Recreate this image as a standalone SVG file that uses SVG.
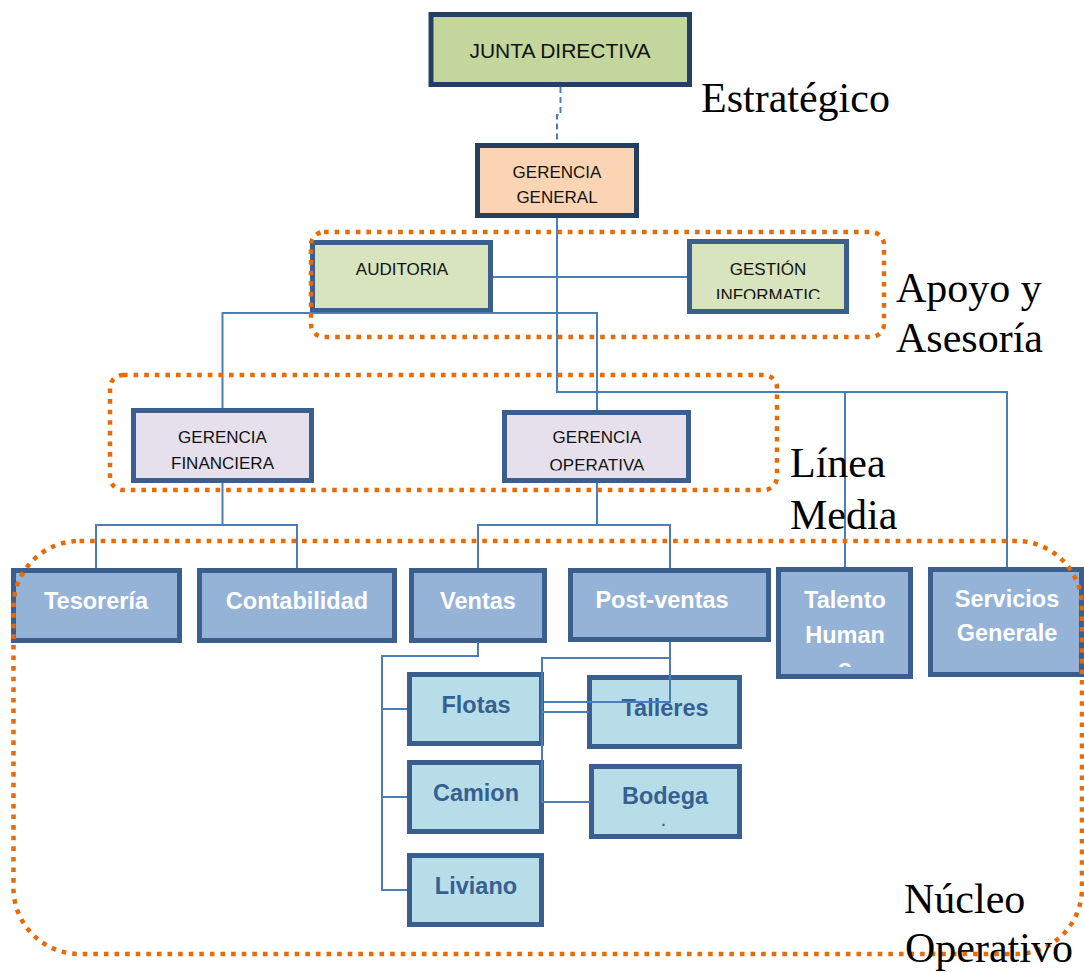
<svg xmlns="http://www.w3.org/2000/svg" width="1084" height="973" viewBox="0 0 1084 973">
<style>
.conn{stroke:#4A7EBB;stroke-width:2;fill:none}
.dash{stroke-dasharray:6 4}
.grp{stroke:#E46C0A;stroke-width:4.5;stroke-dasharray:4.6 6;fill:none}
.bd1{stroke:#243F60;stroke-width:5}
.bd2{stroke:#3A5F8E;stroke-width:5}
.t1{font-family:"Liberation Sans",Arial,sans-serif;font-size:17px;fill:#111;text-anchor:middle}
.t2{font-family:"Liberation Sans",Arial,sans-serif;font-size:23.5px;font-weight:bold;fill:#fff;text-anchor:middle}
.t3{font-family:"Liberation Sans",Arial,sans-serif;font-size:23.5px;font-weight:bold;fill:#376092;text-anchor:middle}
.lbl{font-family:"Liberation Serif","Times New Roman",serif;font-size:42px;fill:#000}
.cGreen{fill:#C3D69B}.cPeach{fill:#FBD4B4}.cLGreen{fill:#D7E4BD}.cLav{fill:#E5E0EC}.cBlue{fill:#95B3D7}.cCyan{fill:#B7DEE8}
</style>
<defs>
<clipPath id="clipGG"><rect x="470" y="140" width="175" height="66"/></clipPath>
<clipPath id="clipGI"><rect x="680" y="235" width="175" height="64"/></clipPath>
<clipPath id="clipGF"><rect x="125" y="400" width="195" height="70"/></clipPath>
<clipPath id="clipGO"><rect x="495" y="400" width="200" height="70.5"/></clipPath>
<clipPath id="clipTH"><rect x="770" y="560" width="150" height="107"/></clipPath>
</defs>

<g id="junta-directiva">
<rect class="cGreen bd1" x="431" y="14.5" width="258.5" height="70"/>
<text class="t1" x="560" y="58" style="font-size:21px">JUNTA DIRECTIVA</text>
</g>
<g id="gerencia-general">
<rect class="cPeach bd1" x="477.5" y="145.5" width="159" height="70"/>
<g clip-path="url(#clipGG)">
<text class="t1" x="557" y="178">GERENCIA</text>
<text class="t1" x="557" y="203">GENERAL</text>
</g>
</g>
<g id="auditoria">
<rect class="cLGreen bd2" x="312.5" y="242.5" width="178" height="68"/>
<text class="t1" x="402" y="275">AUDITORIA</text>
</g>
<g id="gestion-informatica">
<rect class="cLGreen bd2" x="689.5" y="241.5" width="157" height="70"/>
<g clip-path="url(#clipGI)">
<text class="t1" x="768" y="275">GESTIÓN</text>
<text class="t1" x="768" y="301">INFORMATIC</text>
</g>
</g>
<g id="gerencia-financiera">
<rect class="cLav bd2" x="133.5" y="410.5" width="178" height="70"/>
<g clip-path="url(#clipGF)">
<text class="t1" x="222.5" y="443">GERENCIA</text>
<text class="t1" x="222.5" y="469">FINANCIERA</text>
</g>
</g>
<g id="gerencia-operativa">
<rect class="cLav bd2" x="504.5" y="412.5" width="184" height="68"/>
<g clip-path="url(#clipGO)">
<text class="t1" x="597" y="443">GERENCIA</text>
<text class="t1" x="597" y="470.5">OPERATIVA</text>
</g>
</g>
<g id="tesoreria">
<rect class="cBlue bd2" x="13.5" y="570.5" width="166" height="70"/>
<text class="t2" x="96" y="609">Tesorería</text>
</g>
<g id="contabilidad">
<rect class="cBlue bd2" x="199.5" y="570.5" width="195" height="70"/>
<text class="t2" x="297" y="609">Contabilidad</text>
</g>
<g id="ventas">
<rect class="cBlue bd2" x="411.5" y="570.5" width="133" height="70"/>
<text class="t2" x="478" y="609">Ventas</text>
</g>
<g id="post-ventas">
<rect class="cBlue bd2" x="570.5" y="570.5" width="198" height="69"/>
<text class="t2" x="662" y="608">Post-ventas</text>
</g>
<g id="talento-humano">
<rect class="cBlue bd2" x="778.5" y="569.5" width="132" height="107"/>
<g clip-path="url(#clipTH)">
<text class="t2" x="845" y="608">Talento</text>
<text class="t2" x="845" y="643">Human</text>
<text class="t2" x="845" y="676">o</text>
</g>
</g>
<g id="servicios-generales">
<rect class="cBlue bd2" x="930.5" y="569.5" width="151" height="105"/>
<text class="t2" x="1007" y="607">Servicios</text>
<text class="t2" x="1007" y="641">Generale</text>
</g>
<g id="flotas">
<rect class="cCyan bd2" x="409.5" y="674.5" width="132" height="69"/>
<text class="t3" x="476" y="713">Flotas</text>
</g>
<g id="camion">
<rect class="cCyan bd2" x="409.5" y="762.5" width="132" height="69"/>
<text class="t3" x="476" y="801">Camion</text>
</g>
<g id="liviano">
<rect class="cCyan bd2" x="409.5" y="855.5" width="132" height="69"/>
<text class="t3" x="476" y="894">Liviano</text>
</g>
<g id="talleres">
<rect class="cCyan bd2" x="589.5" y="677.5" width="150" height="69"/>
<text class="t3" x="665" y="716">Talleres</text>
</g>
<g id="bodega">
<rect class="cCyan bd2" x="591.5" y="766.5" width="148" height="70"/>
<text class="t3" x="665" y="804">Bodega</text>
<text class="t3" x="663.5" y="825.5" style="font-size:14px">.</text>
</g>

<g id="connectors">
<path class="conn dash" d="M560.5,87 V115 H557 V143"/>
<path class="conn" d="M557,218 V392 H1007 V567"/>
<path class="conn" d="M845,392 V567"/>
<path class="conn" d="M493,277 H687"/>
<path class="conn" d="M222.5,408 V313 H597 V410"/>
<path class="conn" d="M222.5,483 V525 H96 V568"/>
<path class="conn" d="M222.5,525 H297 V568"/>
<path class="conn" d="M597,483 V525 H478 V568"/>
<path class="conn" d="M597,525 H670 V568"/>
<path class="conn" d="M478,642 V656 H382 V890 H407"/>
<path class="conn" d="M382,709 H407"/>
<path class="conn" d="M382,797 H407"/>
<path class="conn" d="M670,642 V703"/>
<path class="conn" d="M670,658 H542 V802 H591"/>
<path class="conn" d="M544,702 H670"/>
<path class="conn" d="M542,712 H589"/>
</g>

<g id="groups">
<rect class="grp" x="311" y="232" width="573" height="105" rx="13"/>
<rect class="grp" x="110" y="375" width="667" height="115" rx="13"/>
<rect class="grp" x="13.5" y="541" width="1068.5" height="413" rx="66"/>
</g>

<g id="level-labels">
<text class="lbl" x="701" y="112">Estratégico</text>
<text class="lbl" x="896" y="302">Apoyo y</text>
<text class="lbl" x="896" y="352">Asesoría</text>
<text class="lbl" x="790" y="477">Línea</text>
<text class="lbl" x="790" y="529">Media</text>
<text class="lbl" x="904" y="913">Núcleo</text>
<text class="lbl" x="905" y="962">Operativo</text>
</g>
</svg>
